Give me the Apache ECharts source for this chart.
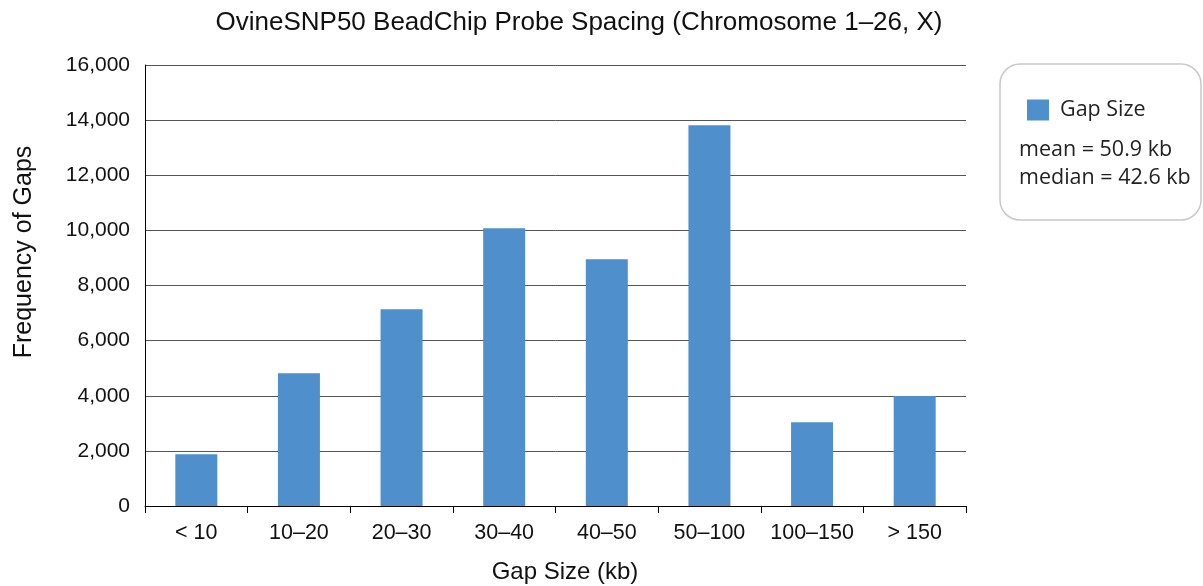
<!DOCTYPE html>
<html>
<head>
<meta charset="utf-8">
<script src="https://cdn.jsdelivr.net/npm/echarts@6/dist/echarts.min.js"></script>
<style>
  html, body { margin: 0; padding: 0; background: #fff; }
  #chart { width: 1203px; height: 586px; }
</style>
</head>
<body>
<div id="chart"></div>
<script>
var categories = ['< 10', '10–20', '20–30', '30–40', '40–50', '50–100', '100–150', '> 150'];
var gapCounts = [1880, 4820, 7140, 10080, 8950, 13810, 3040, 3990];
var statLines = ['mean = 50.9 kb', 'median = 42.6 kb'];

var chart = echarts.init(document.getElementById('chart'));

var option = {
    backgroundColor: '#fff',
    animation: false,
    title: {
        text: 'OvineSNP50 BeadChip Probe Spacing (Chromosome 1–26, X)',
        left: 574,
        textAlign: 'center',
        top: 5,
        textStyle: {
            fontFamily: 'Liberation Sans',
            fontSize: 26,
            fontWeight: 'normal',
            color: '#111'
        }
    },
    legend: {
        data: ['Gap Size'],
        left: 1022,
        top: 94,
        itemWidth: 22,
        itemHeight: 21,
        itemGap: 10,
        icon: 'rect',
        textStyle: {
            fontFamily: 'Open Sans',
            fontSize: 21.5,
            color: '#222',
            padding: [0, 0, 0, 6]
        }
    },
    graphic: [{
        type: 'rect',
        shape: { x: 1000, y: 64, width: 201, height: 156, r: 20 },
        style: { fill: 'none', stroke: '#c8c8c8', lineWidth: 1.5 }
    }, {
        type: 'text',
        left: 1019,
        top: 136,
        style: {
            text: statLines.join('\n'),
            fontFamily: 'Open Sans',
            fontSize: 21.5,
            lineHeight: 28,
            fill: '#222'
        }
    }, {
        // y axis title, placed off-centre like the original
        type: 'text',
        x: 24,
        y: 252,
        rotation: Math.PI / 2,
        style: {
            text: 'Frequency of Gaps',
            fontFamily: 'Liberation Sans',
            fontSize: 25,
            fill: '#111',
            align: 'center',
            verticalAlign: 'middle'
        }
    }, {
        type: 'text',
        x: 565,
        y: 572,
        style: {
            text: 'Gap Size (kb)',
            fontFamily: 'Liberation Sans',
            fontSize: 24,
            fill: '#111',
            align: 'center',
            verticalAlign: 'middle'
        }
    }],
    grid: {
        left: 145,
        right: 237,
        top: 65,
        bottom: 80,
        containLabel: false,
        outerBoundsMode: 'none'
    },
    xAxis: {
        type: 'category',
        data: categories,
        axisLine: { lineStyle: { color: '#000', width: 1 } },
        axisTick: { show: true, length: 7, interval: 0, lineStyle: { color: '#000' } },
        axisLabel: { interval: 0, fontFamily: 'Liberation Sans', fontSize: 21.5, color: '#111', margin: 16 }
    },
    yAxis: {
        type: 'value',
        min: 0,
        max: 16000,
        interval: 2000,
        axisLine: { show: true, lineStyle: { color: '#000', width: 1 } },
        axisTick: { show: false },
        axisLabel: {
            fontFamily: 'Liberation Sans',
            fontSize: 21,
            color: '#111',
            margin: 15,
            formatter: function (v) { return v.toLocaleString('en-US'); }
        },
        splitLine: { lineStyle: { color: '#555', width: 1 } }
    },
    series: [{
        name: 'Gap Size',
        type: 'bar',
        barWidth: 42,
        itemStyle: { color: '#4f8fcc' },
        data: gapCounts
    }]
};

chart.setOption(option);
</script>
</body>
</html>
